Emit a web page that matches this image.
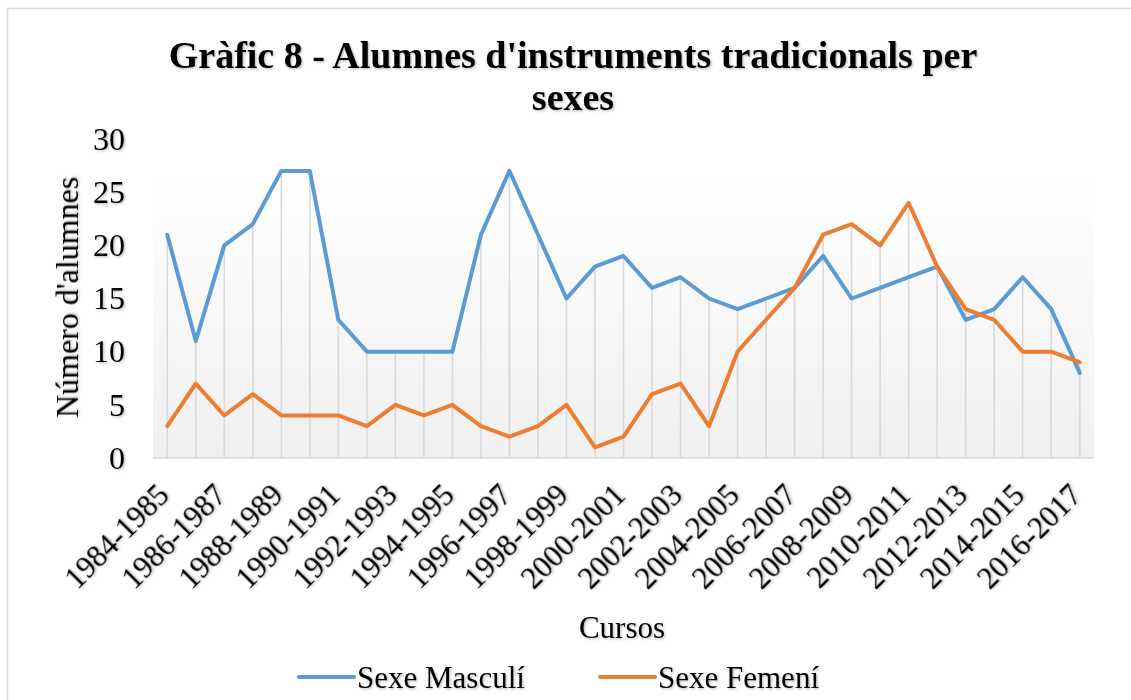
<!DOCTYPE html>
<html>
<head>
<meta charset="utf-8">
<script src="https://cdn.jsdelivr.net/npm/d3@7"></script>
<style>
    body { margin: 0; background: #ffffff; }
    text { font-family: "Liberation Serif", "Times New Roman", serif; fill: #000000; }
</style>
</head>
<body>
<div id="grafic"></div>
<script>
const MASCULI_COLOR = "#5B9BD5";
const FEMENI_COLOR = "#ED7D31";
const GRID_COLOR = "#D9D9D9";

const cursos = [
    "1984-1985", "1985-1986", "1986-1987", "1987-1988", "1988-1989", "1989-1990",
    "1990-1991", "1991-1992", "1992-1993", "1993-1994", "1994-1995", "1995-1996",
    "1996-1997", "1997-1998", "1998-1999", "1999-2000", "2000-2001", "2001-2002",
    "2002-2003", "2003-2004", "2004-2005", "2005-2006", "2006-2007", "2007-2008",
    "2008-2009", "2009-2010", "2010-2011", "2011-2012", "2012-2013", "2013-2014",
    "2014-2015", "2015-2016", "2016-2017"
];

const masculi = [21, 11, 20, 22, 27, 27, 13, 10, 10, 10, 10, 21, 27, 21, 15, 18, 19,
    16, 17, 15, 14, 15, 16, 19, 15, 16, 17, 18, 13, 14, 17, 14, 8];

const femeni = [3, 7, 4, 6, 4, 4, 4, 3, 5, 4, 5, 3, 2, 3, 5, 1, 2,
    6, 7, 3, 10, 13, 16, 21, 22, 20, 24, 18, 14, 13, 10, 10, 9];

const cursosEtiquetats = [
    "1984-1985", "1986-1987", "1988-1989", "1990-1991", "1992-1993", "1994-1995",
    "1996-1997", "1998-1999", "2000-2001", "2002-2003", "2004-2005", "2006-2007",
    "2008-2009", "2010-2011", "2012-2013", "2014-2015", "2016-2017"
];

const yTicks = [0, 5, 10, 15, 20, 25, 30];

const series = [
    { nom: "Sexe Masculí", valors: masculi, color: MASCULI_COLOR },
    { nom: "Sexe Femení", valors: femeni, color: FEMENI_COLOR }
];

const width = 1131;
const height = 700;
const plot = { left: 153, right: 1094, top: 139, bottom: 458 };

const svg = d3
    .select("div#grafic")
    .append("svg")
    .attr("width", width)
    .attr("height", height);

const defs = svg.append("defs");

const grad = defs
    .append("linearGradient")
    .attr("id", "fons")
    .attr("x1", 0).attr("y1", 0)
    .attr("x2", 0).attr("y2", 1);
grad.append("stop").attr("offset", "0%").attr("stop-color", "#ffffff");
grad.append("stop").attr("offset", "12%").attr("stop-color", "#ffffff");
grad.append("stop").attr("offset", "100%").attr("stop-color", "#f0f0f0");

const ombra = defs
    .append("filter")
    .attr("id", "ombra")
    .attr("x", "-10%").attr("y", "-10%")
    .attr("width", "130%").attr("height", "130%");
ombra
    .append("feDropShadow")
    .attr("dx", 1.2)
    .attr("dy", 1.2)
    .attr("stdDeviation", 0.9)
    .attr("flood-color", "#000000")
    .attr("flood-opacity", 0.28);

// chart border
svg
    .append("rect")
    .attr("x", 7.5)
    .attr("y", 8.5)
    .attr("width", 1300)
    .attr("height", 900)
    .attr("fill", "#ffffff")
    .attr("stroke", GRID_COLOR)
    .attr("stroke-width", 1.5);

const x = d3
    .scalePoint()
    .domain(cursos)
    .range([plot.left, plot.right])
    .padding(0.5);

const y = d3
    .scaleLinear()
    .domain([0, 30])
    .range([plot.bottom, plot.top]);

svg
    .append("rect")
    .attr("x", plot.left)
    .attr("y", plot.top)
    .attr("width", plot.right - plot.left)
    .attr("height", plot.bottom - plot.top)
    .attr("fill", "url(#fons)");

// drop lines, from the highest point down to the axis
svg
    .append("g")
    .attr("class", "drop")
    .selectAll("line")
    .data(cursos)
    .join("line")
    .attr("x1", d => x(d))
    .attr("x2", d => x(d))
    .attr("y1", (d, i) => y(Math.max(masculi[i], femeni[i])))
    .attr("y2", y(0))
    .attr("stroke", GRID_COLOR)
    .attr("stroke-width", 1.6);

svg
    .append("line")
    .attr("x1", plot.left)
    .attr("x2", plot.right)
    .attr("y1", y(0))
    .attr("y2", y(0))
    .attr("stroke", GRID_COLOR)
    .attr("stroke-width", 1.6);

const line = d3
    .line()
    .x((d, i) => x(cursos[i]))
    .y(d => y(d));

svg
    .append("g")
    .attr("class", "lines")
    .selectAll("path")
    .data(series)
    .join("path")
    .attr("d", d => line(d.valors))
    .attr("fill", "none")
    .attr("stroke", d => d.color)
    .attr("stroke-width", 4)
    .attr("stroke-linejoin", "round")
    .attr("stroke-linecap", "round");

const yAxis = d3
    .axisLeft(y)
    .tickValues(yTicks)
    .tickSize(0)
    .tickPadding(28);

const gy = svg
    .append("g")
    .attr("transform", "translate(" + plot.left + ",0)")
    .call(yAxis);
gy.select(".domain").remove();
gy
    .selectAll("text")
    .attr("font-family", "Liberation Serif")
    .attr("font-size", 32)
    .attr("fill", "#000")
    .attr("filter", "url(#ombra)");

const xAxis = d3
    .axisBottom(x)
    .tickValues(cursosEtiquetats)
    .tickSize(0);

const gx = svg
    .append("g")
    .attr("transform", "translate(0," + plot.bottom + ")")
    .call(xAxis);
gx.select(".domain").remove();
gx
    .selectAll("text")
    .attr("font-family", "Liberation Serif")
    .attr("font-size", 30.5)
    .attr("fill", "#000")
    .attr("x", 3)
    .attr("y", 39)
    .attr("dy", 0)
    .style("text-anchor", "end")
    .attr("transform", "rotate(-45 3 39)")
    .attr("filter", "url(#ombra)");

// title
svg
    .append("text")
    .attr("x", 573)
    .attr("y", 68)
    .attr("text-anchor", "middle")
    .attr("font-size", 38)
    .attr("font-weight", "bold")
    .attr("filter", "url(#ombra)")
    .text("Gràfic 8 - Alumnes d'instruments tradicionals per");

svg
    .append("text")
    .attr("x", 573)
    .attr("y", 110)
    .attr("text-anchor", "middle")
    .attr("font-size", 38)
    .attr("font-weight", "bold")
    .attr("filter", "url(#ombra)")
    .text("sexes");

svg
    .append("text")
    .attr("transform", "translate(78," + ((plot.top + plot.bottom) / 2 - 1) + ") rotate(-90)")
    .attr("text-anchor", "middle")
    .attr("font-size", 32)
    .attr("filter", "url(#ombra)")
    .text("Número d'alumnes");

svg
    .append("text")
    .attr("x", 622)
    .attr("y", 638)
    .attr("text-anchor", "middle")
    .attr("font-size", 31)
    .attr("filter", "url(#ombra)")
    .text("Cursos");

// legend
const legendX = [299, 600];

const legend = svg
    .append("g")
    .attr("class", "legend")
    .selectAll("g")
    .data(series)
    .join("g")
    .attr("transform", (d, i) => "translate(" + legendX[i] + ",677)");

legend
    .append("line")
    .attr("x1", 0)
    .attr("x2", 55)
    .attr("stroke", d => d.color)
    .attr("stroke-width", 4)
    .attr("stroke-linecap", "round");

legend
    .append("text")
    .attr("x", 58)
    .attr("y", 11)
    .attr("font-size", 31)
    .attr("filter", "url(#ombra)")
    .text(d => d.nom);
</script>
</body>
</html>
